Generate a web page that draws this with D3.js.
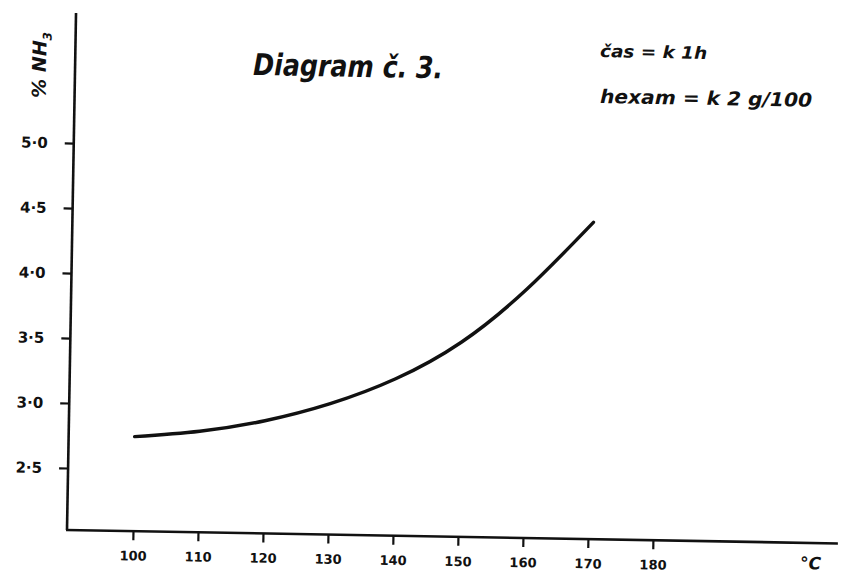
<!DOCTYPE html>
<html>
<head>
<meta charset="utf-8">
<script src="https://cdn.jsdelivr.net/npm/d3@7"></script>
<style>
  body { margin: 0; background: #fff; }
  svg { display: block; }
  .tick line { stroke: #111; stroke-width: 2.2; }
  .tick text { fill: #111; font-family: "DejaVu Sans", sans-serif; font-weight: bold; }
</style>
</head>
<body>
<div id="chart"></div>
<script>
// temperature (°C) vs % NH3
const temps = [100, 110, 120, 130, 140, 150, 160, 170];
const nh3 = [2.75, 2.8, 2.89, 3.03, 3.23, 3.52, 3.94, 4.46];
const xTicks = [100, 110, 120, 130, 140, 150, 160, 170, 180];
const yTicks = [2.5, 3.0, 3.5, 4.0, 4.5, 5.0];
const title = "Diagram č. 3.";
const noteTime = "čas = k  1h";
const noteHexam = "hexam = k  2 g/100";

const width = 844;
const height = 573;
const origin = { x: 67, y: 530 };
const tilt = 1; // the scan is turned about one degree

const svg = d3
  .select("#chart")
  .append("svg")
  .attr("width", width)
  .attr("height", height);

const xScale = d3.scaleLinear().domain([100, 180]).range([133, 653]);
const yScale = d3.scaleLinear().domain([2.5, 5.0]).range([468, 143]);

const plot = svg
  .append("g")
  .attr("transform", `rotate(${tilt},${origin.x},${origin.y})`);

// axis lines
plot
  .append("line")
  .attr("x1", origin.x)
  .attr("y1", origin.y)
  .attr("x2", origin.x)
  .attr("y2", 13)
  .attr("stroke", "#111")
  .attr("stroke-width", 2.6);

plot
  .append("line")
  .attr("x1", origin.x - 1)
  .attr("y1", origin.y)
  .attr("x2", 838)
  .attr("y2", origin.y)
  .attr("stroke", "#111")
  .attr("stroke-width", 2.6);

const fmt = (d) => d3.format(".1f")(d).replace(".", "·");

plot
  .append("g")
  .attr("transform", `translate(${origin.x},0)`)
  .call(
    d3.axisLeft(yScale).tickValues(yTicks).tickSize(9).tickPadding(17).tickFormat(fmt)
  )
  .call((g) => g.select(".domain").remove())
  .call((g) => g.selectAll(".tick text").style("font-size", "15px"));

plot
  .append("g")
  .attr("transform", `translate(0,${origin.y})`)
  .call(d3.axisBottom(xScale).tickValues(xTicks).tickSize(9).tickPadding(11))
  .call((g) => g.select(".domain").remove())
  .call((g) => g.selectAll(".tick text").style("font-size", "13px"));

const line = d3
  .line()
  .x((d, i) => xScale(temps[i]))
  .y((d) => yScale(d))
  .curve(d3.curveNatural);

plot
  .append("path")
  .datum(nh3)
  .attr("d", line)
  .attr("fill", "none")
  .attr("stroke", "#111")
  .attr("stroke-width", 3.4)
  .attr("stroke-linecap", "round");

// texts, each turned with the scan
const texts = svg.append("g").attr("fill", "#111");

texts
  .append("text")
  .attr("transform", `translate(253,75) rotate(${tilt})`)
  .attr("font-family", "DejaVu Sans Condensed, DejaVu Sans, sans-serif")
  .attr("font-style", "italic")
  .attr("font-weight", "bold")
  .attr("font-size", 30)
  .attr("textLength", 190)
  .attr("lengthAdjust", "spacingAndGlyphs")
  .text(title);

texts
  .append("text")
  .attr("transform", `translate(600,57) rotate(${tilt})`)
  .attr("font-family", "DejaVu Sans, sans-serif")
  .attr("font-style", "italic")
  .attr("font-weight", "bold")
  .attr("font-size", 17)
  .attr("textLength", 107)
  .attr("lengthAdjust", "spacingAndGlyphs")
  .text(noteTime);

texts
  .append("text")
  .attr("transform", `translate(600,103) rotate(${tilt})`)
  .attr("font-family", "DejaVu Sans, sans-serif")
  .attr("font-style", "italic")
  .attr("font-weight", "bold")
  .attr("font-size", 19)
  .attr("textLength", 212)
  .attr("lengthAdjust", "spacingAndGlyphs")
  .text(noteHexam);

const yLabel = texts
  .append("text")
  .attr("transform", `translate(46,65) rotate(${tilt - 90})`)
  .attr("text-anchor", "middle")
  .attr("font-family", "DejaVu Sans, sans-serif")
  .attr("font-style", "italic")
  .attr("font-weight", "bold")
  .attr("font-size", 19);
yLabel.append("tspan").text("% NH");
yLabel.append("tspan").attr("font-size", 12).attr("dy", 5).text("3");

texts
  .append("text")
  .attr("transform", `translate(800,569) rotate(${tilt})`)
  .attr("font-family", "DejaVu Sans, sans-serif")
  .attr("font-style", "italic")
  .attr("font-weight", "bold")
  .attr("font-size", 17)
  .text("°C");
</script>
</body>
</html>
